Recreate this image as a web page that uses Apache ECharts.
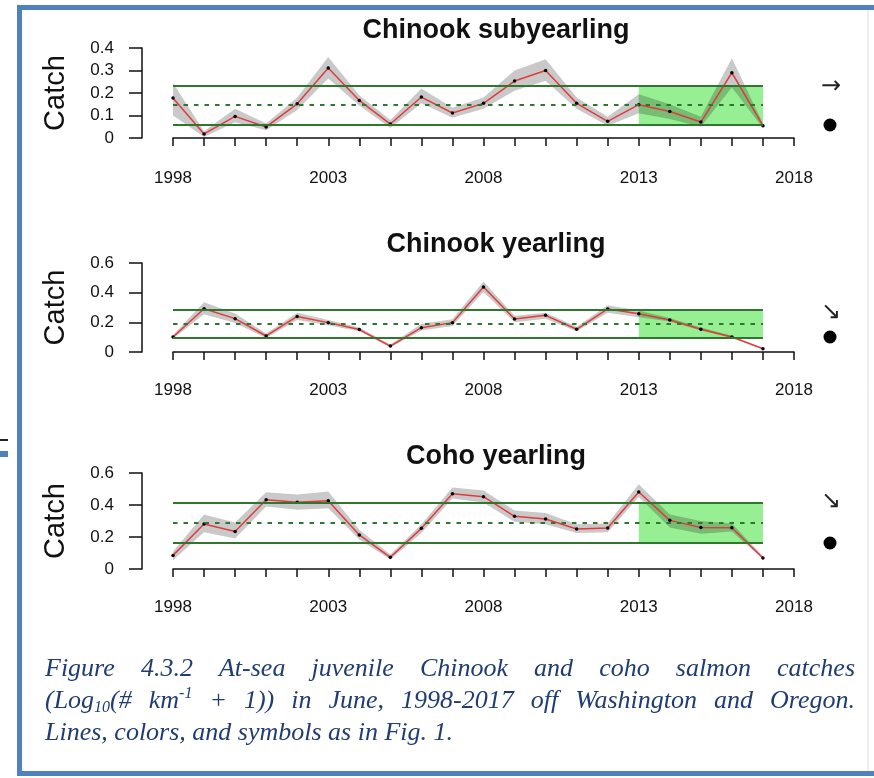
<!DOCTYPE html>
<html>
<head>
<meta charset="utf-8">
<script src="https://cdn.jsdelivr.net/npm/echarts@6/dist/echarts.min.js"></script>
<style>
  html, body { margin: 0; padding: 0; background: #ffffff; }
  #chart { width: 874px; height: 778px; }
</style>
</head>
<body>
<div id="chart"></div>
<script>
// ---- Data: June catches, Log10(# km-1 + 1), 1998-2017 ----
const years = [1998, 1999, 2000, 2001, 2002, 2003, 2004, 2005, 2006, 2007,
               2008, 2009, 2010, 2011, 2012, 2013, 2014, 2015, 2016, 2017];
const axisYears = years.concat([2018]);

// Chinook subyearling
const subyearlingCatch = [0.178, 0.018, 0.096, 0.049, 0.152, 0.311, 0.167, 0.062, 0.182, 0.111,
                          0.154, 0.253, 0.300, 0.154, 0.074, 0.148, 0.118, 0.071, 0.290, 0.055];
const subyearlingLow   = [0.100, 0.005, 0.070, 0.035, 0.125, 0.265, 0.145, 0.045, 0.155, 0.090,
                          0.130, 0.210, 0.255, 0.130, 0.055, 0.110, 0.085, 0.050, 0.225, 0.045];
const subyearlingHigh  = [0.245, 0.030, 0.130, 0.065, 0.180, 0.360, 0.190, 0.080, 0.220, 0.135,
                          0.180, 0.300, 0.350, 0.180, 0.095, 0.195, 0.150, 0.095, 0.355, 0.065];
const subyearlingRef   = [0.059, 0.148, 0.234];   // mean - 1 sd, mean, mean + 1 sd

// Chinook yearling
const yearlingCatch = [0.101, 0.292, 0.225, 0.108, 0.240, 0.198, 0.151, 0.040, 0.164, 0.198,
                       0.438, 0.222, 0.247, 0.153, 0.290, 0.258, 0.216, 0.153, 0.101, 0.022];
const yearlingLow   = [0.090, 0.255, 0.195, 0.095, 0.215, 0.180, 0.140, 0.030, 0.145, 0.175,
                       0.405, 0.200, 0.225, 0.140, 0.265, 0.235, 0.205, 0.145, 0.095, 0.018];
const yearlingHigh  = [0.115, 0.335, 0.260, 0.125, 0.265, 0.215, 0.165, 0.050, 0.190, 0.220,
                       0.475, 0.245, 0.265, 0.170, 0.315, 0.280, 0.230, 0.165, 0.110, 0.027];
const yearlingRef   = [0.097, 0.191, 0.285];

// Coho yearling
const cohoCatch = [0.085, 0.281, 0.235, 0.433, 0.417, 0.427, 0.213, 0.073, 0.254, 0.471,
                   0.452, 0.329, 0.313, 0.250, 0.256, 0.481, 0.304, 0.260, 0.258, 0.069];
const cohoLow   = [0.055, 0.230, 0.190, 0.390, 0.370, 0.380, 0.185, 0.060, 0.225, 0.440,
                   0.415, 0.295, 0.280, 0.225, 0.230, 0.450, 0.260, 0.220, 0.235, 0.060];
const cohoHigh  = [0.110, 0.340, 0.290, 0.480, 0.465, 0.485, 0.245, 0.090, 0.280, 0.510,
                   0.490, 0.365, 0.350, 0.280, 0.285, 0.530, 0.340, 0.300, 0.285, 0.080];
const cohoRef   = [0.167, 0.292, 0.417];

const panelTitles = ['Chinook subyearling', 'Chinook yearling', 'Coho yearling'];
const panelYMax   = [0.4, 0.6, 0.6];
const panelYStep  = [0.1, 0.2, 0.2];
const trendArrows = ['\u2192', '\u2198', '\u2198'];
const recentStart = 2013;
const yAxisName = 'Catch';

const captionLine1 = ['Figure', '4.3.2', 'At-sea', 'juvenile', 'Chinook', 'and', 'coho', 'salmon', 'catches'];
const captionLine2 = [[['(Log', 'n'], ['10', 'sub'], ['(#', 'n']], [['km', 'n'], ['-1', 'sup']],
                      '+', '1))', 'in', 'June,', '1998-2017', 'off', 'Washington', 'and', 'Oregon.'];
const captionLine3 = 'Lines, colors, and symbols as in Fig. 1.';

// ---- Layout and style ----
const panelData = [
  { catch: subyearlingCatch, low: subyearlingLow, high: subyearlingHigh, ref: subyearlingRef },
  { catch: yearlingCatch,    low: yearlingLow,    high: yearlingHigh,    ref: yearlingRef },
  { catch: cohoCatch,        low: cohoLow,        high: cohoHigh,        ref: cohoRef }
];
const layout = [
  { top: 48,  height: 90, axisGap: 13, titleY: 31,  arrowY: 87,  dotY: 125 },
  { top: 263, height: 89, axisGap: 11, titleY: 245, arrowY: 313, dotY: 337 },
  { top: 473, height: 96, axisGap: 11, titleY: 457, arrowY: 502, dotY: 543 }
];
const PLOT_LEFT = 173, PLOT_WIDTH = 621;
const SANS = '"Liberation Sans", Arial, Helvetica, sans-serif';
const SERIF = '"Liberation Serif", "Times New Roman", serif';
const INK = '#111111';
const GREEN_LINE = '#2f772f';
const GREEN_FILL = '#96ef93';
const BAND = 'rgba(0,0,0,0.21)';
const RED = '#e23b3b';
const BORDER = '#4f81bd';
const CAPTION = '#1f3d73';

const categories = axisYears.map(String);
const lastYear = String(years[years.length - 1]);

const grids = [], xAxes = [], yAxes = [], series = [];

layout.forEach(function (L, k) {
  const d = panelData[k];
  grids.push({ left: PLOT_LEFT, width: PLOT_WIDTH, top: L.top, height: L.height, containLabel: false });

  xAxes.push({
    gridIndex: k, type: 'category', data: categories, boundaryGap: false,
    offset: L.axisGap,
    axisLine: { show: true, lineStyle: { color: INK, width: 1.5 } },
    axisTick: { show: true, interval: 0, length: 8, lineStyle: { color: INK, width: 1.5 } },
    axisLabel: { interval: 4, margin: 19, color: INK, fontSize: 17, fontFamily: SANS },
    splitLine: { show: false }
  });

  yAxes.push({
    gridIndex: k, type: 'value', min: 0, max: panelYMax[k], interval: panelYStep[k],
    offset: 31,
    name: yAxisName, nameLocation: 'middle', nameRotate: 90, nameGap: 72,
    nameTextStyle: { color: INK, fontSize: 29, fontFamily: SANS },
    axisLine: { show: true, lineStyle: { color: INK, width: 1.5 } },
    axisTick: { show: true, length: 13, lineStyle: { color: INK, width: 1.5 } },
    axisLabel: { margin: 28, color: INK, fontSize: 17, fontFamily: SANS },
    splitLine: { show: false }
  });

  const stackId = 'se' + k;

  // lower edge of the error band (invisible), carries the recent-period box
  series.push({
    type: 'line', xAxisIndex: k, yAxisIndex: k, stack: stackId,
    data: d.low, symbol: 'none', silent: true, z: 1,
    lineStyle: { opacity: 0 },
    markArea: {
      silent: true,
      itemStyle: { color: GREEN_FILL, opacity: 1 },
      data: [[{ coord: [String(recentStart), d.ref[0]] }, { coord: [lastYear, d.ref[2]] }]]
    }
  });

  // error band between low and high
  series.push({
    type: 'line', xAxisIndex: k, yAxisIndex: k, stack: stackId,
    data: d.high.map(function (h, i) { return h - d.low[i]; }),
    symbol: 'none', silent: true, z: 2,
    lineStyle: { opacity: 0 },
    areaStyle: { color: BAND, opacity: 1 }
  });

  // long-term mean and +/- 1 sd reference lines
  series.push({
    type: 'line', xAxisIndex: k, yAxisIndex: k,
    data: d.catch, symbol: 'none', silent: true, z: 3,
    lineStyle: { opacity: 0 },
    markLine: {
      silent: true, symbol: ['none', 'none'], label: { show: false },
      lineStyle: { color: GREEN_LINE, width: 2, type: 'solid' },
      data: [
        [{ coord: [categories[0], d.ref[0]] }, { coord: [lastYear, d.ref[0]] }],
        [{ coord: [categories[0], d.ref[2]] }, { coord: [lastYear, d.ref[2]] }],
        [{ coord: [categories[0], d.ref[1]], lineStyle: { type: [4.5, 6], width: 2, color: GREEN_LINE } },
         { coord: [lastYear, d.ref[1]] }]
      ]
    }
  });

  // annual catch
  series.push({
    type: 'line', xAxisIndex: k, yAxisIndex: k,
    data: d.catch, z: 4,
    symbol: 'circle', symbolSize: 3.5, showSymbol: true,
    itemStyle: { color: '#000000' },
    lineStyle: { color: RED, width: 1.5 }
  });
});

// ---- Graphic elements: frame, titles, status symbols, caption ----
const graphics = [];

graphics.push({ type: 'rect', shape: { x: 19.5, y: 7.5, width: 900, height: 766 },
  style: { fill: 'none', stroke: BORDER, lineWidth: 5 }, silent: true });
graphics.push({ type: 'line', shape: { x1: 868, y1: 10, x2: 868, y2: 771 },
  style: { stroke: '#dddddd', lineWidth: 1 }, silent: true });
graphics.push({ type: 'rect', shape: { x: 0, y: 439, width: 8, height: 2 }, style: { fill: '#222222' }, silent: true });
graphics.push({ type: 'rect', shape: { x: 0, y: 451, width: 8, height: 6 }, style: { fill: BORDER }, silent: true });

layout.forEach(function (L, k) {
  graphics.push({ type: 'text', x: 496, y: L.titleY, silent: true,
    style: { text: panelTitles[k], font: 'bold 27px ' + SANS, fill: INK, align: 'center', verticalAlign: 'middle' } });
  graphics.push({ type: 'text', x: 831, y: L.arrowY, silent: true,
    style: { text: trendArrows[k], font: '24px "DejaVu Sans", sans-serif', fill: '#222222', align: 'center', verticalAlign: 'middle' } });
  graphics.push({ type: 'circle', shape: { cx: 830, cy: L.dotY, r: 6.5 }, style: { fill: '#000000' }, silent: true });
});

// caption, justified between the frame margins
const CAP_LEFT = 45, CAP_WIDTH = 810, CAP_SIZE = 26;
const capFont = 'italic ' + CAP_SIZE + 'px ' + SERIF;
const smallFont = 'italic 16px ' + SERIF;
const measureCtx = document.createElement('canvas').getContext('2d');
function textWidth(font, s) { measureCtx.font = font; return measureCtx.measureText(s).width; }

const richStyles = {
  n:   { fontSize: CAP_SIZE, fontStyle: 'italic', fontFamily: SERIF, fill: CAPTION, lineHeight: 30 },
  sub: { fontSize: 16, fontStyle: 'italic', fontFamily: SERIF, fill: CAPTION, lineHeight: 14, verticalAlign: 'bottom' },
  sup: { fontSize: 16, fontStyle: 'italic', fontFamily: SERIF, fill: CAPTION, lineHeight: 16, verticalAlign: 'top' }
};

function wordInfo(w) {
  if (typeof w === 'string') return { text: w, width: textWidth(capFont, w), rich: false };
  let width = 0, text = '';
  w.forEach(function (p) {
    width += textWidth(p[1] === 'n' ? capFont : smallFont, p[0]);
    text += '{' + p[1] + '|' + p[0] + '}';
  });
  return { text: text, width: width, rich: true };
}

function justifiedLine(words, y) {
  const info = words.map(wordInfo);
  const total = info.reduce(function (s, w) { return s + w.width; }, 0);
  const gap = (CAP_WIDTH - total) / (info.length - 1);
  let x = CAP_LEFT;
  info.forEach(function (w) {
    const style = w.rich
      ? { text: w.text, rich: richStyles, align: 'left', verticalAlign: 'middle' }
      : { text: w.text, font: capFont, fill: CAPTION, align: 'left', verticalAlign: 'middle' };
    graphics.push({ type: 'text', x: x, y: y, silent: true, style: style });
    x += w.width + gap;
  });
}

justifiedLine(captionLine1, 669);
justifiedLine(captionLine2, 701);
graphics.push({ type: 'text', x: CAP_LEFT, y: 733, silent: true,
  style: { text: captionLine3, font: capFont, fill: CAPTION, align: 'left', verticalAlign: 'middle' } });

const chart = echarts.init(document.getElementById('chart'), null, { renderer: 'canvas' });
chart.setOption({
  animation: false,
  backgroundColor: '#ffffff',
  grid: grids,
  xAxis: xAxes,
  yAxis: yAxes,
  series: series,
  graphic: { elements: graphics }
});
</script>
</body>
</html>
